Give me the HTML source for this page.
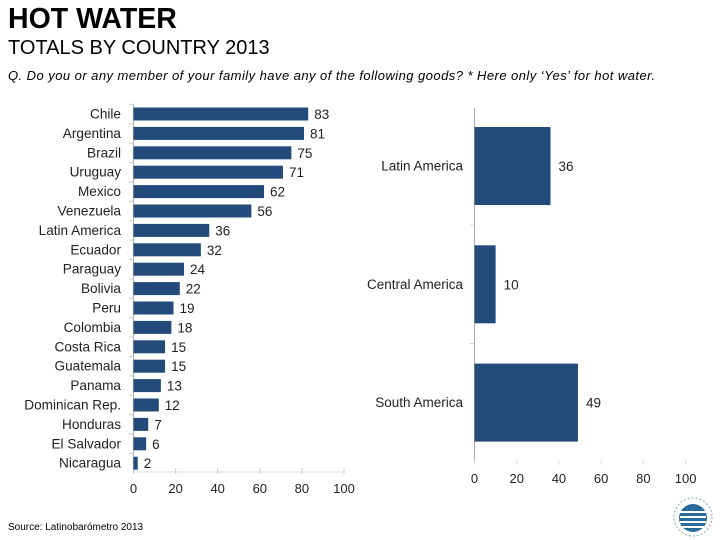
<!DOCTYPE html>
<html><head><meta charset="utf-8"><style>
body{margin:0;width:720px;height:540px;background:#fff;font-family:"Liberation Sans",sans-serif;overflow:hidden;position:relative}
.t{position:absolute;white-space:nowrap;color:#000}
</style></head><body>
<div class="t" style="left:8px;top:3px;font-size:28.5px;font-weight:bold">HOT WATER</div>
<div class="t" style="left:8px;top:37px;font-size:20px">TOTALS BY COUNTRY 2013</div>
<div class="t" style="left:8px;top:68px;font-size:13px;letter-spacing:0.45px;font-style:italic">Q. Do you or any member of your family have any of the following goods? * Here only ‘Yes’ for hot water.</div>
<div class="t" style="left:8px;top:522px;font-size:10px">Source: Latinobarómetro 2013</div>
<svg id="c" width="720" height="540" style="position:absolute;left:0;top:0">
<g><circle cx="693" cy="517" r="19" fill="none" stroke="#8aa" stroke-dasharray="2 2"/><circle cx="693" cy="518" r="14" fill="#2a6a9a"/><path d="M680 512h26M680 517h26M680 522h26M682 527h22" stroke="#fff" stroke-width="2"/></g>
</svg>
<script>
const countries=["Chile","Argentina","Brazil","Uruguay","Mexico","Venezuela","Latin America","Ecuador","Paraguay","Bolivia","Peru","Colombia","Costa Rica","Guatemala","Panama","Dominican Rep.","Honduras","El Salvador","Nicaragua"];
const countryValues=[83,81,75,71,62,56,36,32,24,22,19,18,15,15,13,12,7,6,2];
const regions=["Latin America","Central America","South America"];
const regionValues=[36,10,49];
const ticks=[0,20,40,60,80,100];
const NS="http://www.w3.org/2000/svg";
const svg=document.getElementById('c');
function mk(tag,at,txt){const e=document.createElementNS(NS,tag);for(const k in at)e.setAttribute(k,at[k]);if(txt!=null)e.textContent=txt;svg.appendChild(e);return e;}
const BLUE="#224a7a",GRID="#aaa";
const lx=v=>133.5+v*2.105;
const ly=i=>114+i*19.4;
let e=mk('line',{x1:133.5,y1:104,x2:133.5,y2:472,stroke:GRID});

e=mk('line',{x1:133.5,y1:472,x2:lx(100),y2:472,stroke:"#ddd"});

ticks.forEach(t=>{
 let k=mk('line',{x1:lx(t),y1:468,x2:lx(t),y2:474,stroke:"#ccc"});
 
 let l=mk('text',{x:lx(t),y:493,'font-size':13,'text-anchor':'middle',fill:'#222'},t);
 
});
countries.forEach((c,i)=>{
 const y=ly(i);
 let k=mk('line',{x1:129,y1:y-9.7,x2:133.5,y2:y-9.7,stroke:"#ccc"});
 
 let r=mk('rect',{x:lx(0),y:y-6.5,width:lx(countryValues[i])-lx(0),height:13,fill:BLUE});
 
 let l=mk('text',{x:121,y:y+4.5,'font-size':13.6,'text-anchor':'end',fill:'#222'},c);
 
 let v=mk('text',{x:lx(countryValues[i])+6,y:y+5,'font-size':13.5,fill:'#222'},countryValues[i]);
 
});
const rx=v=>474.5+v*2.111;
const ry=i=>166+i*118.3;
e=mk('line',{x1:474.5,y1:108,x2:474.5,y2:465,stroke:GRID});

ticks.forEach(t=>{
 let k=mk('line',{x1:rx(t),y1:460,x2:rx(t),y2:465,stroke:"#ddd"});
 
 let l=mk('text',{x:rx(t),y:483,'font-size':13,'text-anchor':'middle',fill:'#222'},t);
 
});
regions.forEach((c,i)=>{
 const y=ry(i);
 if(i>0){let k=mk('line',{x1:470,y1:y-59,x2:474.5,y2:y-59,stroke:"#ccc"});
 }
 let r=mk('rect',{x:rx(0),y:y-39,width:rx(regionValues[i])-rx(0),height:78,fill:BLUE});
 
 let l=mk('text',{x:463,y:y+4.5,'font-size':13.5,'text-anchor':'end',fill:'#222'},c);
 
 let v=mk('text',{x:rx(regionValues[i])+8,y:y+5,'font-size':13.5,fill:'#222'},regionValues[i]);
 
});
</script>
</body></html>
